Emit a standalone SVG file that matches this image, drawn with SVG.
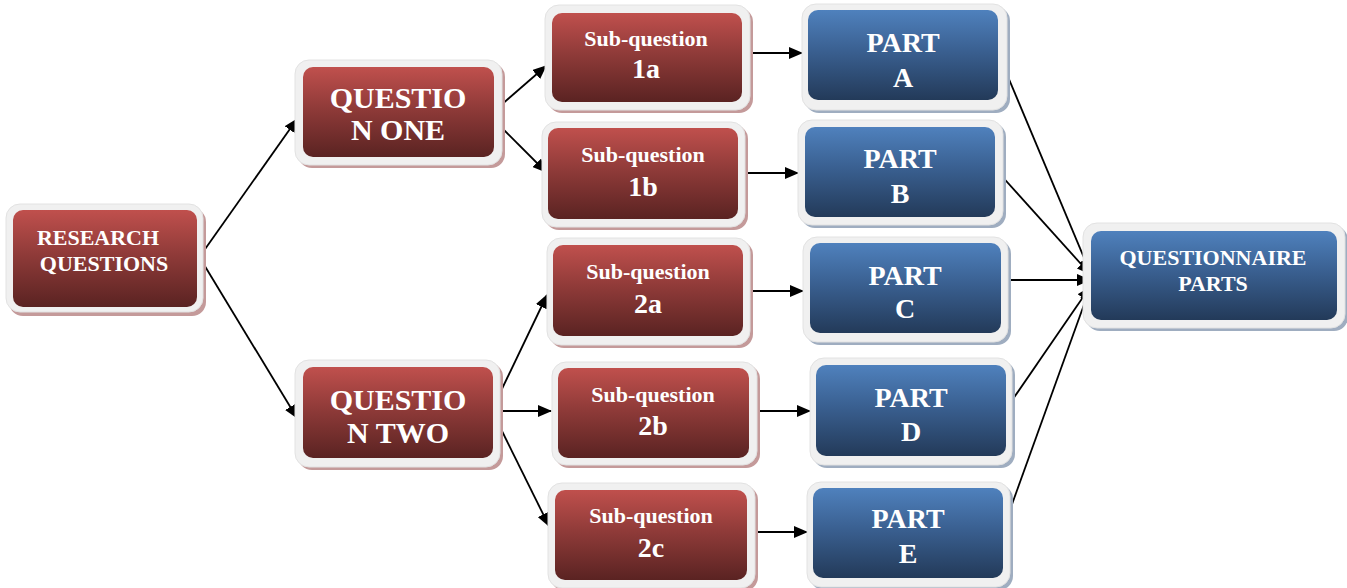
<svg xmlns="http://www.w3.org/2000/svg" width="1347" height="588" viewBox="0 0 1347 588">
<defs>
<linearGradient id="gr" x1="0" y1="0" x2="0" y2="1">
<stop offset="0" stop-color="#c0504d"/><stop offset="0.45" stop-color="#903b39"/><stop offset="1" stop-color="#5a2322"/>
</linearGradient>
<linearGradient id="gb" x1="0" y1="0" x2="0" y2="1">
<stop offset="0" stop-color="#4f81bd"/><stop offset="0.45" stop-color="#3a6091"/><stop offset="1" stop-color="#233a59"/>
</linearGradient>
<marker id="ah" viewBox="0 0 14 12" refX="13" refY="6" markerWidth="14" markerHeight="12" markerUnits="userSpaceOnUse" orient="auto">
<path d="M0,0 L14,6 L0,12 z" fill="#000"/>
</marker>
<style>
.shr{fill:#c49a9a}
.shb{fill:#9fadc0}
.out{fill:#f0f0f0;stroke:#e2e2e2;stroke-width:1}
.inr{fill:url(#gr)}
.inb{fill:url(#gb)}
text{font-family:"Liberation Serif","Times New Roman",serif;font-weight:bold;fill:#fff;text-anchor:middle}
.t22{font-size:22px}
.t28{font-size:28px}
.t30{font-size:30px}
.c{fill:none;stroke:#000;stroke-width:1.8;marker-end:url(#ah)}
</style>
</defs>
<rect width="1347" height="588" fill="#fff"/>

<g id="connectors">
<line class="c" x1="203" y1="252" x2="297" y2="119"/>
<line class="c" x1="203" y1="263" x2="297" y2="418"/>
<line class="c" x1="500" y1="106" x2="546" y2="66"/>
<line class="c" x1="500" y1="126" x2="546" y2="172"/>
<line class="c" x1="748" y1="53" x2="802" y2="53"/>
<line class="c" x1="745" y1="173" x2="798" y2="173"/>
<line class="c" x1="500" y1="393" x2="547" y2="295"/>
<line class="c" x1="500" y1="411" x2="551" y2="411"/>
<line class="c" x1="500" y1="427" x2="549" y2="526"/>
<line class="c" x1="750" y1="291" x2="803" y2="291"/>
<line class="c" x1="757" y1="411" x2="810" y2="411"/>
<line class="c" x1="755" y1="532" x2="807" y2="532"/>
<line class="c" x1="998" y1="53" x2="1090" y2="272"/>
<line class="c" x1="999" y1="173" x2="1090" y2="274"/>
<line class="c" x1="1005" y1="280" x2="1090" y2="280"/>
<line class="c" x1="1004" y1="412" x2="1090" y2="287"/>
<line class="c" x1="1002" y1="532" x2="1090" y2="288"/>
</g>

<g id="n-rq">
<rect class="shr" x="9" y="208" width="197" height="108" rx="14"/>
<rect class="out" x="6" y="204" width="197" height="108" rx="14"/>
<rect class="inr" x="13" y="210" width="184" height="97" rx="10"/>
<text class="t22" x="98" y="245">RESEARCH</text>
<text class="t22" x="104" y="271">QUESTIONS</text>
</g>

<g id="n-q1">
<rect class="shr" x="298" y="63" width="207" height="105" rx="14"/>
<rect class="out" x="295" y="60" width="207" height="105" rx="14"/>
<rect class="inr" x="303" y="67" width="191" height="90" rx="10"/>
<text class="t30" x="398" y="108">QUESTIO</text>
<text class="t30" x="398" y="140">N ONE</text>
</g>

<g id="n-q2">
<rect class="shr" x="298" y="363" width="205" height="107" rx="14"/>
<rect class="out" x="295" y="360" width="205" height="107" rx="14"/>
<rect class="inr" x="303" y="367" width="190" height="91" rx="10"/>
<text class="t30" x="398" y="410">QUESTIO</text>
<text class="t30" x="398" y="443">N TWO</text>
</g>

<g id="n-1a">
<rect class="shr" x="548" y="8" width="205" height="105" rx="14"/>
<rect class="out" x="545" y="5" width="205" height="105" rx="14"/>
<rect class="inr" x="552" y="13" width="190" height="89" rx="10"/>
<text class="t22" x="646" y="46">Sub-question</text>
<text class="t28" x="646" y="78">1a</text>
</g>

<g id="n-1b">
<rect class="shr" x="545" y="125" width="203" height="105" rx="14"/>
<rect class="out" x="542" y="122" width="203" height="105" rx="14"/>
<rect class="inr" x="548" y="128" width="190" height="91" rx="10"/>
<text class="t22" x="643" y="162">Sub-question</text>
<text class="t28" x="643" y="196">1b</text>
</g>

<g id="n-2a">
<rect class="shr" x="550" y="241" width="203" height="107" rx="14"/>
<rect class="out" x="547" y="238" width="203" height="107" rx="14"/>
<rect class="inr" x="553" y="245" width="190" height="91" rx="10"/>
<text class="t22" x="648" y="279">Sub-question</text>
<text class="t28" x="648" y="313">2a</text>
</g>

<g id="n-2b">
<rect class="shr" x="555" y="365" width="205" height="103" rx="14"/>
<rect class="out" x="552" y="362" width="205" height="103" rx="14"/>
<rect class="inr" x="558" y="368" width="191" height="90" rx="10"/>
<text class="t22" x="653" y="402">Sub-question</text>
<text class="t28" x="653" y="435">2b</text>
</g>

<g id="n-2c">
<rect class="shr" x="551" y="486" width="207" height="105" rx="14"/>
<rect class="out" x="548" y="483" width="207" height="105" rx="14"/>
<rect class="inr" x="555" y="490" width="192" height="90" rx="10"/>
<text class="t22" x="651" y="523">Sub-question</text>
<text class="t28" x="651" y="557">2c</text>
</g>

<g id="n-pa">
<rect class="shb" x="805" y="7" width="205" height="106" rx="14"/>
<rect class="out" x="802" y="4" width="205" height="106" rx="14"/>
<rect class="inb" x="808" y="10" width="190" height="90" rx="10"/>
<text class="t28" x="903" y="52">PART</text>
<text class="t28" x="903" y="87">A</text>
</g>

<g id="n-pb">
<rect class="shb" x="801" y="123" width="205" height="105" rx="14"/>
<rect class="out" x="798" y="120" width="205" height="105" rx="14"/>
<rect class="inb" x="805" y="127" width="190" height="90" rx="10"/>
<text class="t28" x="900" y="168">PART</text>
<text class="t28" x="900" y="203">B</text>
</g>

<g id="n-pc">
<rect class="shb" x="806" y="240" width="205" height="105" rx="14"/>
<rect class="out" x="803" y="237" width="205" height="105" rx="14"/>
<rect class="inb" x="810" y="243" width="191" height="90" rx="10"/>
<text class="t28" x="905" y="285">PART</text>
<text class="t28" x="905" y="318">C</text>
</g>

<g id="n-pd">
<rect class="shb" x="813" y="361" width="202" height="107" rx="14"/>
<rect class="out" x="810" y="358" width="202" height="107" rx="14"/>
<rect class="inb" x="816" y="365" width="190" height="91" rx="10"/>
<text class="t28" x="911" y="407">PART</text>
<text class="t28" x="911" y="441">D</text>
</g>

<g id="n-pe">
<rect class="shb" x="810" y="485" width="203" height="105" rx="14"/>
<rect class="out" x="807" y="482" width="203" height="105" rx="14"/>
<rect class="inb" x="813" y="488" width="190" height="90" rx="10"/>
<text class="t28" x="908" y="528">PART</text>
<text class="t28" x="908" y="563">E</text>
</g>

<g id="n-qp">
<rect class="shb" x="1086" y="226" width="262" height="105" rx="14"/>
<rect class="out" x="1083" y="223" width="262" height="105" rx="14"/>
<rect class="inb" x="1091" y="231" width="246" height="89" rx="10"/>
<text class="t22" x="1213" y="265">QUESTIONNAIRE</text>
<text class="t22" x="1213" y="291">PARTS</text>
</g>
</svg>
